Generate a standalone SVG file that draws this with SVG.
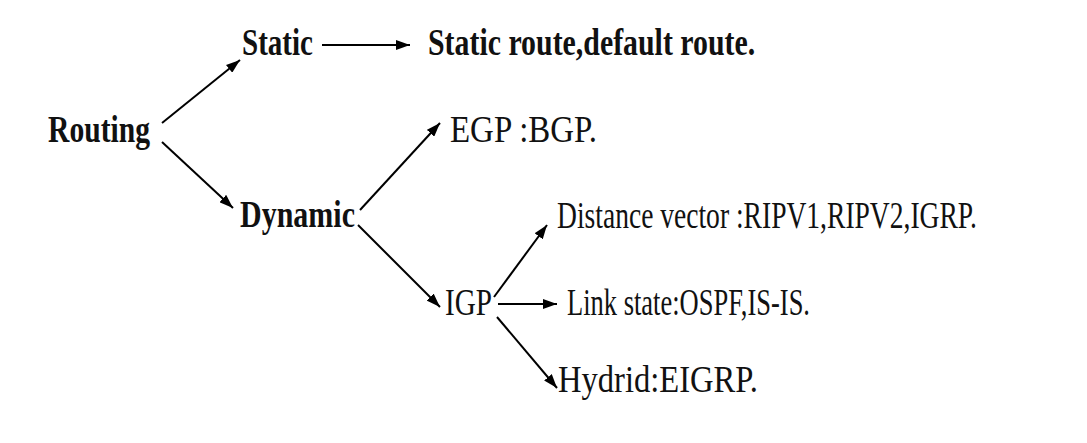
<svg xmlns="http://www.w3.org/2000/svg" width="1087" height="443" viewBox="0 0 1087 443">
<defs>
<marker id="ah" viewBox="0 0 14 10" refX="14" refY="5" markerWidth="14" markerHeight="10" markerUnits="userSpaceOnUse" orient="auto">
<path d="M0,0 L14,5 L0,10 Z" fill="#000"/>
</marker>
</defs>
<rect width="1087" height="443" fill="#fff"/>
<g font-family="Liberation Serif, Times New Roman, serif" font-size="37" fill="#111">
<g id="routing"><text font-weight="bold" x="48" y="142" textLength="102" lengthAdjust="spacingAndGlyphs">Routing</text></g>
<g id="static"><text font-weight="bold" x="242" y="55" textLength="71" lengthAdjust="spacingAndGlyphs">Static</text></g>
<g id="static-detail"><text font-weight="bold" transform="translate(428,55) scale(0.8,1)" x="0" y="0" textLength="409" lengthAdjust="spacingAndGlyphs">Static route,default route.</text></g>
<g id="dynamic"><text font-weight="bold" x="240" y="227" textLength="115" lengthAdjust="spacingAndGlyphs">Dynamic</text></g>
<g id="egp"><text x="450" y="142" textLength="147" lengthAdjust="spacingAndGlyphs">EGP :BGP.</text></g>
<g id="igp"><text x="445" y="315" textLength="47" lengthAdjust="spacingAndGlyphs">IGP</text></g>
<g id="distance"><text transform="translate(557,228) scale(0.75,1)" x="0" y="0" textLength="560" lengthAdjust="spacingAndGlyphs">Distance vector :RIPV1,RIPV2,IGRP.</text></g>
<g id="link"><text x="567" y="315" textLength="243" lengthAdjust="spacingAndGlyphs">Link state:OSPF,IS-IS.</text></g>
<g id="hydrid"><text x="558" y="392" textLength="200" lengthAdjust="spacingAndGlyphs">Hydrid:EIGRP.</text></g>
</g>
<g id="connectors" stroke="#000" stroke-width="2" marker-end="url(#ah)">
<line x1="162" y1="123" x2="240" y2="60"/>
<line x1="322" y1="45" x2="410" y2="45"/>
<line x1="162" y1="142" x2="233" y2="208"/>
<line x1="360" y1="210" x2="440" y2="123"/>
<line x1="358" y1="225" x2="440" y2="307"/>
<line x1="494" y1="297" x2="547" y2="225"/>
<line x1="498" y1="304" x2="557" y2="304"/>
<line x1="497" y1="317" x2="557" y2="388"/>
</g>
</svg>
